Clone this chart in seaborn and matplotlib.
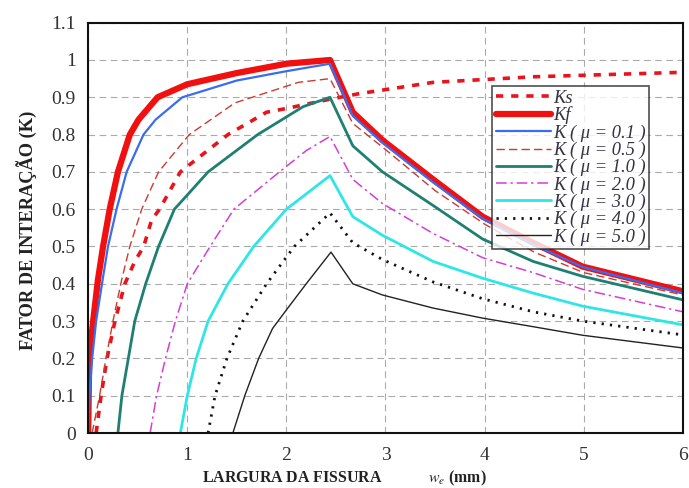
import numpy as np
import pandas as pd
import matplotlib
matplotlib.use("Agg")
import matplotlib.pyplot as plt
import seaborn as sns

# ---- data ----
ks_x = [0.08, 0.13, 0.19, 0.27, 0.37, 0.47, 0.56, 0.64, 0.72, 0.93, 1.41, 1.80, 2.00, 2.44, 2.74, 3.48, 4.49, 6.00]
ks_y = [0.00, 0.10, 0.20, 0.30, 0.40, 0.46, 0.50, 0.571, 0.60, 0.70, 0.80, 0.86, 0.87, 0.895, 0.91, 0.94, 0.955, 0.967]

kf_x = [0.00, 0.01, 0.05, 0.098, 0.15, 0.217, 0.30, 0.42, 0.508, 0.70, 1.00, 1.50, 2.00, 2.44, 2.67, 2.97, 3.48, 3.98, 4.49, 4.99, 6.00]
kf_y = [0.00, 0.20, 0.30, 0.41, 0.50, 0.60, 0.70, 0.80, 0.84, 0.90, 0.935, 0.965, 0.99, 1.00, 0.86, 0.785, 0.68, 0.58, 0.51, 0.446, 0.38]

k01_x = [0.00, 0.013, 0.04, 0.08, 0.145, 0.20, 0.286, 0.388, 0.558, 0.68, 0.95, 1.50, 2.00, 2.44, 2.67, 2.97, 3.48, 3.98, 4.49, 4.99, 6.00]
k01_y = [0.00, 0.10, 0.20, 0.30, 0.41, 0.50, 0.60, 0.70, 0.80, 0.84, 0.90, 0.945, 0.97, 0.99, 0.85, 0.778, 0.672, 0.575, 0.505, 0.445, 0.375]

k05_x = [0.04, 0.115, 0.18, 0.25, 0.337, 0.42, 0.54, 0.71, 1.02, 1.48, 2.12, 2.44, 2.67, 3.00, 3.50, 4.00, 4.50, 5.00, 6.00]
k05_y = [0.00, 0.10, 0.20, 0.30, 0.41, 0.50, 0.60, 0.70, 0.80, 0.885, 0.94, 0.95, 0.83, 0.76, 0.65, 0.56, 0.485, 0.43, 0.37]

k10_x = [0.30, 0.34, 0.405, 0.47, 0.58, 0.71, 0.87, 1.00, 1.21, 1.71, 2.17, 2.44, 2.67, 2.97, 3.48, 3.98, 4.49, 4.99, 6.00]
k10_y = [0.00, 0.10, 0.20, 0.30, 0.40, 0.50, 0.60, 0.638, 0.70, 0.80, 0.875, 0.90, 0.77, 0.70, 0.61, 0.52, 0.46, 0.42, 0.357]

k20_x = [0.625, 0.69, 0.78, 0.88, 1.00, 1.23, 1.47, 1.93, 2.20, 2.44, 2.67, 2.97, 3.48, 3.98, 4.49, 4.99, 6.00]
k20_y = [0.00, 0.10, 0.20, 0.30, 0.40, 0.50, 0.60, 0.70, 0.757, 0.795, 0.68, 0.615, 0.535, 0.47, 0.43, 0.385, 0.325]

k30_x = [0.93, 1.00, 1.09, 1.21, 1.41, 1.67, 2.00, 2.44, 2.67, 2.97, 3.48, 3.98, 4.49, 4.99, 6.00]
k30_y = [0.00, 0.10, 0.20, 0.30, 0.40, 0.50, 0.60, 0.69, 0.58, 0.53, 0.46, 0.415, 0.375, 0.34, 0.29]

k40_x = [1.21, 1.28, 1.40, 1.56, 1.80, 2.08, 2.44, 2.67, 2.97, 3.48, 3.98, 4.49, 4.99, 6.00]
k40_y = [0.00, 0.10, 0.20, 0.30, 0.40, 0.50, 0.59, 0.51, 0.465, 0.405, 0.36, 0.325, 0.30, 0.263]

k50_x = [1.46, 1.58, 1.72, 1.86, 2.00, 2.20, 2.45, 2.67, 2.97, 3.48, 3.98, 4.49, 4.99, 6.00]
k50_y = [0.00, 0.10, 0.20, 0.28, 0.33, 0.40, 0.485, 0.40, 0.37, 0.335, 0.308, 0.285, 0.262, 0.228]

labels = ["Ks", "Kf", "K ( μ = 0.1 )", "K ( μ = 0.5 )", "K ( μ = 1.0 )",
          "K ( μ = 2.0 )", "K ( μ = 3.0 )", "K ( μ = 4.0 )", "K ( μ = 5.0 )"]

x_ticks = [0, 1, 2, 3, 4, 5, 6]
y_ticks = [0, 0.1, 0.2, 0.3, 0.4, 0.5, 0.6, 0.7, 0.8, 0.9, 1.0, 1.1]
y_tick_labels = ["0", "0.1", "0.2", "0.3", "0.4", "0.5", "0.6", "0.7", "0.8", "0.9", "1", "1.1"]

# ---- figure ----
sns.set_style("white")
plt.rcParams["font.family"] = ["Liberation Serif", "DejaVu Serif"]
plt.rcParams["mathtext.fontset"] = "stix"

fig = plt.figure(figsize=(6.89, 4.88), dpi=100)
ax = fig.add_axes([0.128, 0.1127, 0.863, 0.8408])

series = [
    (ks_x, ks_y, dict(color="#e8141c", lw=2.6, linestyle=(0, (2.0, 2.2)))),
    (kf_x, kf_y, dict(color="#f01010", lw=4.5, linestyle="-")),
    (k01_x, k01_y, dict(color="#3a6cf0", lw=1.6, linestyle="-")),
    (k05_x, k05_y, dict(color="#cc3a30", lw=1.0, linestyle=(0, (6, 3)))),
    (k10_x, k10_y, dict(color="#1f7f72", lw=2.0, linestyle="-")),
    (k20_x, k20_y, dict(color="#d63cd6", lw=1.1, linestyle=(0, (7, 2.5, 1.5, 2.5)))),
    (k30_x, k30_y, dict(color="#2ee6e6", lw=2.0, linestyle="-")),
    (k40_x, k40_y, dict(color="#111111", lw=2.0, linestyle=(0, (0.8, 2.2)))),
    (k50_x, k50_y, dict(color="#222222", lw=1.0, linestyle="-")),
]

for (xs, ys, st), lab in zip(series, labels):
    df = pd.DataFrame({"w": xs, "K": ys})
    sns.lineplot(data=df, x="w", y="K", ax=ax, label=lab, sort=False,
                 estimator=None, **st)

ax.set_xlim(0, 6)
ax.set_ylim(0, 1.1)
ax.set_xticks(x_ticks)
ax.set_xticklabels([str(t) for t in x_ticks])
ax.set_yticks(y_ticks)
ax.set_yticklabels(y_tick_labels)
ax.tick_params(axis="both", labelsize=14, colors="#222222", labelcolor="#333333")
ax.tick_params(axis="y", direction="out", length=5, width=1.2, pad=4)
ax.tick_params(axis="x", direction="in", length=5, width=1.0, pad=10)

ax.grid(True, color="#aaaaaa", lw=0.8, linestyle=(0, (6, 4)))
for sp in ax.spines.values():
    sp.set_color("#111111")
    sp.set_linewidth(1.5)

ax.set_xlabel("LARGURA DA FISSURA" + " " * 12 + r"$\boldsymbol{w_e}$ (mm)", fontsize=11.4,
              fontweight="bold", color="#222222")
ax.xaxis.set_label_coords(0.43, -0.086)
ax.set_ylabel("FATOR DE INTERAÇÃO (K)", fontsize=13.2, fontweight="bold",
              color="#222222")
ax.yaxis.set_label_coords(-0.086, 0.493)

leg = ax.legend(loc="upper left", bbox_to_anchor=(0.679, 0.846), frameon=True,
                fancybox=False, shadow=False, handlelength=3.0, handletextpad=0.1,
                labelspacing=0.0, borderpad=0.2, borderaxespad=0.0,
                prop={"family": "Liberation Serif", "style": "italic", "size": 13.3})
leg.get_frame().set_edgecolor("#222222")
leg.get_frame().set_linewidth(1.2)
for t in leg.get_texts():
    t.set_color("#333344")

fig.savefig("out.png", dpi=100)
